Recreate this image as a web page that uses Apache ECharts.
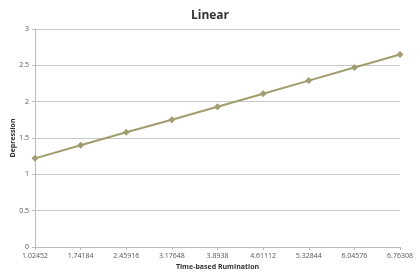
<!DOCTYPE html>
<html><head><meta charset="utf-8">
<script src="https://cdn.jsdelivr.net/npm/echarts@6/dist/echarts.min.js"></script>
<style>html,body{margin:0;padding:0;background:#fff}#c{width:420px;height:280px}</style>
</head><body><div id="c"></div>
<script>
const categories = ['1.02452','1.74184','2.45916','3.17648','3.8938','4.61112','5.32844','6.04576','6.76308'];
const depression = [1.22, 1.40, 1.58, 1.75, 1.93, 2.11, 2.29, 2.47, 2.65];
const yTicks = [0, 0.5, 1, 1.5, 2, 2.5, 3];

const chart = echarts.init(document.getElementById('c'));
chart.setOption({
  animation: false,
  title: {text: 'Linear', left: 'center', top: 5,
    textStyle: {fontFamily: 'Open Sans', fontSize: 12, fontWeight: 'bold', color: '#333'}},
  grid: {left: 35, right: 20, top: 29, bottom: 33, containLabel: false, outerBoundsMode: 'none'},
  xAxis: {
    type: 'category', data: categories, boundaryGap: false,
    name: 'Time-based Rumination', nameLocation: 'middle', nameGap: 16, nameMoveOverlap: false,
    nameTextStyle: {fontFamily: 'Open Sans', fontSize: 7, fontWeight: 'bold', color: '#333'},
    axisLine: {lineStyle: {color: '#bbb'}},
    axisTick: {alignWithLabel: true, length: 3, lineStyle: {color: '#bbb'}},
    axisLabel: {fontFamily: 'Open Sans', fontSize: 7, color: '#555', margin: 5, interval: 0},
    splitLine: {show: false}
  },
  yAxis: {
    type: 'value', min: yTicks[0], max: yTicks[yTicks.length-1], interval: 0.5,
    name: 'Depression', nameLocation: 'middle', nameGap: 19, nameRotate: 90, nameMoveOverlap: false,
    nameTextStyle: {fontFamily: 'Open Sans', fontSize: 7, fontWeight: 'bold', color: '#333'},
    axisLine: {show: true, lineStyle: {color: '#bbb'}},
    axisTick: {show: true, length: 3, lineStyle: {color: '#bbb'}},
    axisLabel: {fontFamily: 'Open Sans', fontSize: 7, color: '#555', margin: 6},
    splitLine: {lineStyle: {color: '#c8c8c8'}}
  },
  series: [{
    type: 'line', data: depression,
    symbol: 'diamond', symbolSize: 7,
    lineStyle: {color: '#a09d6e', width: 2},
    itemStyle: {color: '#a09d6e'}
  }]
});
</script></body></html>
